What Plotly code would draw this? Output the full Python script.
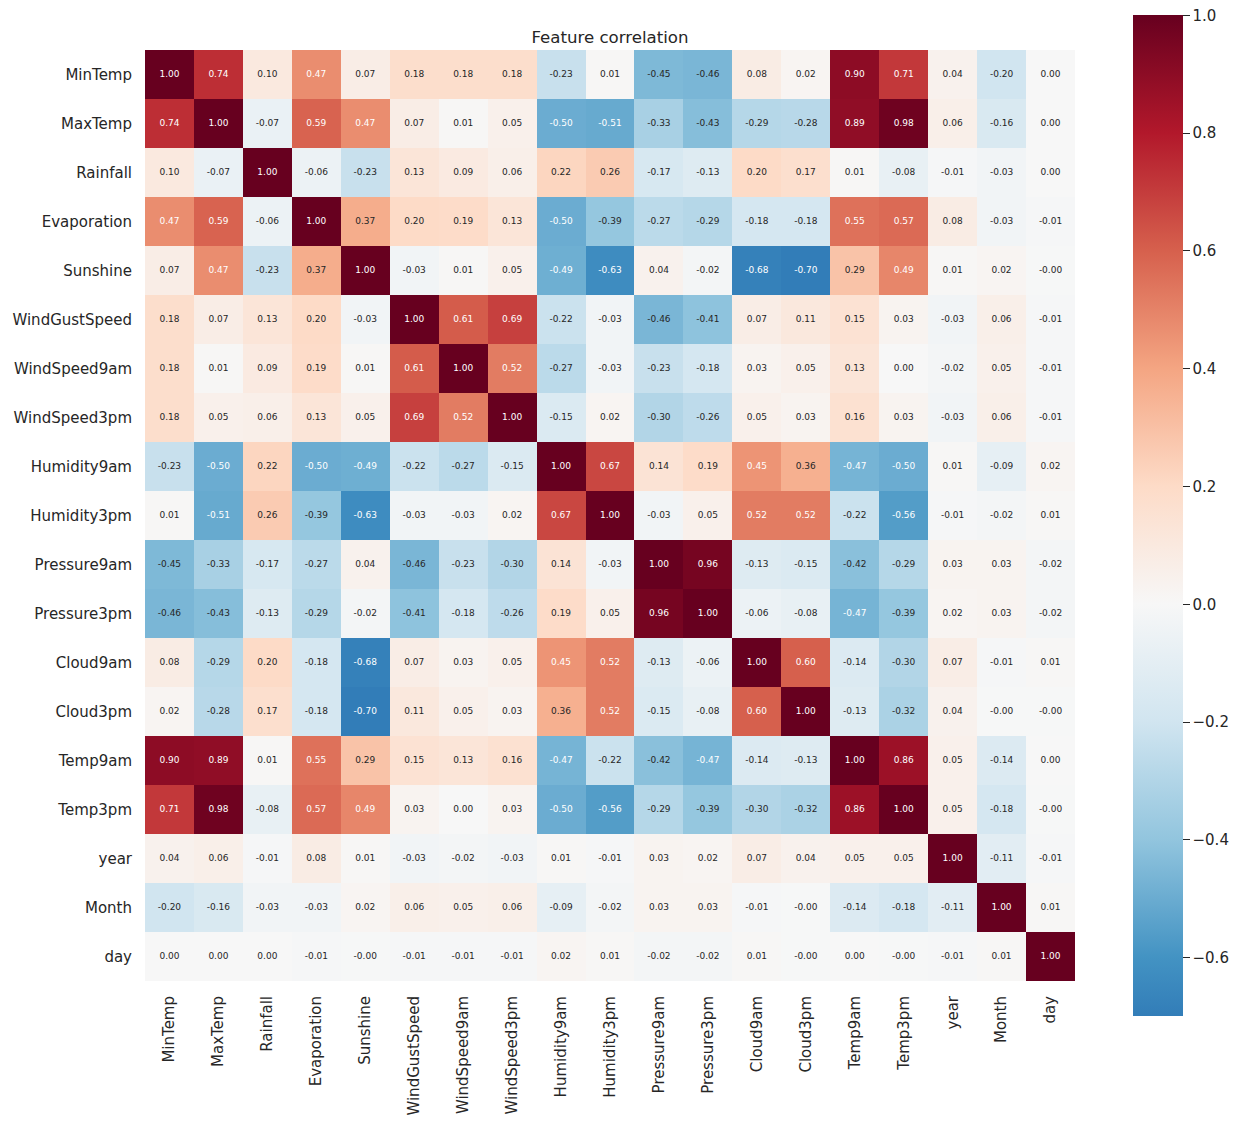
import plotly.graph_objects as go

features = ["MinTemp", "MaxTemp", "Rainfall", "Evaporation", "Sunshine",
            "WindGustSpeed", "WindSpeed9am", "WindSpeed3pm", "Humidity9am",
            "Humidity3pm", "Pressure9am", "Pressure3pm", "Cloud9am", "Cloud3pm",
            "Temp9am", "Temp3pm", "year", "Month", "day"]

cbar_ticks = [-0.6, -0.4, -0.2, 0.0, 0.2, 0.4, 0.6, 0.8, 1.0]

# -0.004 stands for the cells printed as "-0.00"
corr = [
    [1.00, 0.74, 0.10, 0.47, 0.07, 0.18, 0.18, 0.18, -0.23, 0.01, -0.45, -0.46, 0.08, 0.02, 0.90, 0.71, 0.04, -0.20, 0.00],
    [0.74, 1.00, -0.07, 0.59, 0.47, 0.07, 0.01, 0.05, -0.50, -0.51, -0.33, -0.43, -0.29, -0.28, 0.89, 0.98, 0.06, -0.16, 0.00],
    [0.10, -0.07, 1.00, -0.06, -0.23, 0.13, 0.09, 0.06, 0.22, 0.26, -0.17, -0.13, 0.20, 0.17, 0.01, -0.08, -0.01, -0.03, 0.00],
    [0.47, 0.59, -0.06, 1.00, 0.37, 0.20, 0.19, 0.13, -0.50, -0.39, -0.27, -0.29, -0.18, -0.18, 0.55, 0.57, 0.08, -0.03, -0.01],
    [0.07, 0.47, -0.23, 0.37, 1.00, -0.03, 0.01, 0.05, -0.49, -0.63, 0.04, -0.02, -0.68, -0.70, 0.29, 0.49, 0.01, 0.02, -0.004],
    [0.18, 0.07, 0.13, 0.20, -0.03, 1.00, 0.61, 0.69, -0.22, -0.03, -0.46, -0.41, 0.07, 0.11, 0.15, 0.03, -0.03, 0.06, -0.01],
    [0.18, 0.01, 0.09, 0.19, 0.01, 0.61, 1.00, 0.52, -0.27, -0.03, -0.23, -0.18, 0.03, 0.05, 0.13, 0.00, -0.02, 0.05, -0.01],
    [0.18, 0.05, 0.06, 0.13, 0.05, 0.69, 0.52, 1.00, -0.15, 0.02, -0.30, -0.26, 0.05, 0.03, 0.16, 0.03, -0.03, 0.06, -0.01],
    [-0.23, -0.50, 0.22, -0.50, -0.49, -0.22, -0.27, -0.15, 1.00, 0.67, 0.14, 0.19, 0.45, 0.36, -0.47, -0.50, 0.01, -0.09, 0.02],
    [0.01, -0.51, 0.26, -0.39, -0.63, -0.03, -0.03, 0.02, 0.67, 1.00, -0.03, 0.05, 0.52, 0.52, -0.22, -0.56, -0.01, -0.02, 0.01],
    [-0.45, -0.33, -0.17, -0.27, 0.04, -0.46, -0.23, -0.30, 0.14, -0.03, 1.00, 0.96, -0.13, -0.15, -0.42, -0.29, 0.03, 0.03, -0.02],
    [-0.46, -0.43, -0.13, -0.29, -0.02, -0.41, -0.18, -0.26, 0.19, 0.05, 0.96, 1.00, -0.06, -0.08, -0.47, -0.39, 0.02, 0.03, -0.02],
    [0.08, -0.29, 0.20, -0.18, -0.68, 0.07, 0.03, 0.05, 0.45, 0.52, -0.13, -0.06, 1.00, 0.60, -0.14, -0.30, 0.07, -0.01, 0.01],
    [0.02, -0.28, 0.17, -0.18, -0.70, 0.11, 0.05, 0.03, 0.36, 0.52, -0.15, -0.08, 0.60, 1.00, -0.13, -0.32, 0.04, -0.004, -0.004],
    [0.90, 0.89, 0.01, 0.55, 0.29, 0.15, 0.13, 0.16, -0.47, -0.22, -0.42, -0.47, -0.14, -0.13, 1.00, 0.86, 0.05, -0.14, 0.00],
    [0.71, 0.98, -0.08, 0.57, 0.49, 0.03, 0.00, 0.03, -0.50, -0.56, -0.29, -0.39, -0.30, -0.32, 0.86, 1.00, 0.05, -0.18, -0.004],
    [0.04, 0.06, -0.01, 0.08, 0.01, -0.03, -0.02, -0.03, 0.01, -0.01, 0.03, 0.02, 0.07, 0.04, 0.05, 0.05, 1.00, -0.11, -0.01],
    [-0.20, -0.16, -0.03, -0.03, 0.02, 0.06, 0.05, 0.06, -0.09, -0.02, 0.03, 0.03, -0.01, -0.004, -0.14, -0.18, -0.11, 1.00, 0.01],
    [0.00, 0.00, 0.00, -0.01, -0.004, -0.01, -0.01, -0.01, 0.02, 0.01, -0.02, -0.02, 0.01, -0.004, 0.00, -0.004, -0.01, 0.01, 1.00],
]

# RdBu_r, centred on 0 like seaborn's center=0, then cut to the data range
rdbu_r = ["#053061", "#2166ac", "#4393c3", "#92c5de", "#d1e5f0", "#f7f7f7",
          "#fddbc7", "#f4a582", "#d6604d", "#b2182b", "#67001f"]


def hex_rgb(h):
    return [int(h[i:i + 2], 16) for i in (1, 3, 5)]


def color_at(t):
    k = min(int(t * 10), 9)
    f = t * 10 - k
    a, b = hex_rgb(rdbu_r[k]), hex_rgb(rdbu_r[k + 1])
    c = [round(a[i] + (b[i] - a[i]) * f) for i in range(3)]
    return "rgb(%d,%d,%d)" % tuple(c)


vmin = min(min(r) for r in corr)
vmax = 1.0
t0 = (vmin + 1) / 2
scale = [[0, color_at(t0)]]
for k in range(11):
    t = k / 10
    if t > t0:
        scale.append([(t - t0) / (1 - t0), rdbu_r[k]])

# annotation text, white on dark cells like seaborn does
wx, wy, wt, dx, dy, dt = [], [], [], [], [], []
for i, row in enumerate(corr):
    for j, v in enumerate(row):
        s = "%.2f" % v
        if v >= 0.45 or v <= -0.47:
            wx.append(features[j]); wy.append(features[i]); wt.append(s)
        else:
            dx.append(features[j]); dy.append(features[i]); dt.append(s)

fig = go.Figure()
fig.add_trace(go.Heatmap(
    z=corr, x=features, y=features, zmin=vmin, zmax=vmax,
    colorscale=scale, hoverinfo="skip",
    colorbar=dict(
        thickness=50, len=1001, lenmode="pixels", ypad=0, xpad=0,
        x=1.0624, xanchor="left", y=0.4995, yanchor="middle",
        outlinewidth=0, tickvals=cbar_ticks, tickformat=".1f",
        ticks="outside", ticklen=7, tickcolor="#262626",
        tickprefix="\u00a0", ticklabeloverflow="allow",
        tickfont=dict(size=15, color="#262626"),
    ),
))
fig.add_trace(go.Scatter(x=wx, y=wy, text=wt, mode="text", hoverinfo="skip",
                         textfont=dict(size=9, color="white"), showlegend=False))
fig.add_trace(go.Scatter(x=dx, y=dy, text=dt, mode="text", hoverinfo="skip",
                         textfont=dict(size=9, color="#262626"), showlegend=False))

fig.update_layout(
    width=1243, height=1126,
    margin=dict(l=137, r=176, t=42, b=153, autoexpand=False),
    paper_bgcolor="white", plot_bgcolor="white",
    font=dict(family="DejaVu Sans", color="#262626"),
    title=dict(text="Feature correlation", x=0.5, xref="paper",
               y=1 - 29 / 1126, yref="container", yanchor="middle",
               font=dict(size=16.6, color="#262626")),
    xaxis=dict(categoryorder="array", categoryarray=features, range=[-0.5, 18.5],
               tickangle=-90, tickfont=dict(size=15), showgrid=False,
               zeroline=False, ticks="", ticklabelstandoff=11, automargin=False),
    yaxis=dict(categoryorder="array", categoryarray=features, range=[18.5, -0.5],
               tickfont=dict(size=15), showgrid=False, zeroline=False,
               ticks="", ticklabelstandoff=12, automargin=False),
)

fig.write_html("out.html")
